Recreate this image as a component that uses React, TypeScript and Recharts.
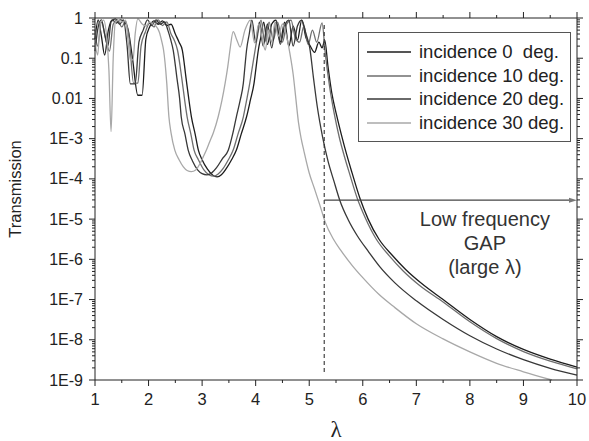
import React from 'react';
import { LineChart, Line, XAxis, YAxis, ReferenceLine, ReferenceDot, Legend } from 'recharts';

// wavelength samples and transmission, one pair per incidence angle
const lambda0 = [1.0, 1.06, 1.12, 1.18, 1.25, 1.32, 1.4, 1.47, 1.55, 1.62, 1.7, 1.8, 1.88, 1.95, 2.02, 2.1, 2.18, 2.26, 2.34, 2.42, 2.5, 2.57, 2.63, 2.7, 2.75, 2.8, 2.87, 2.93, 3.0, 3.1, 3.2, 3.28, 3.36, 3.45, 3.55, 3.64, 3.73, 3.83, 3.9, 3.97, 4.01, 4.05, 4.1, 4.15, 4.22, 4.3, 4.38, 4.46, 4.54, 4.62, 4.7, 4.78, 4.86, 4.94, 5.02, 5.1, 5.18, 5.24, 5.29, 5.35, 5.42, 5.51, 5.6, 5.7, 5.8, 5.95, 6.1, 6.3, 6.55, 6.8, 7.1, 7.5, 8.0, 8.5, 9.0, 9.5, 10];
const trans0 = [0.3, 0.9, 0.35, 0.12, 0.5, 0.9, 0.75, 0.9, 0.8, 0.5, 0.1, 0.012, 0.012, 0.3, 0.6, 0.85, 0.7, 0.85, 0.65, 0.7, 0.4, 0.25, 0.16, 0.032, 0.01, 0.0035, 0.0013, 5.2e-4, 3e-4, 1.74e-4, 1.23e-4, 1.12e-4, 1.26e-4, 1.8e-4, 3e-4, 5.2e-4, 1.3e-3, 3.5e-3, 8.9e-3, 0.024, 0.063, 0.16, 0.35, 0.79, 0.22, 0.71, 0.89, 0.25, 0.79, 0.2, 0.63, 0.28, 0.89, 0.32, 0.2, 0.14, 0.25, 0.18, 0.28, 0.063, 0.014, 3.9e-3, 1.26e-3, 4e-4, 1.41e-4, 3.2e-5, 1e-5, 3.2e-6, 1.26e-6, 5.6e-7, 2.5e-7, 1e-7, 3.2e-8, 1.2e-8, 5.75e-9, 3.3e-9, 2.1e-9];

const lambda10 = [1.0, 1.05, 1.12, 1.2, 1.27, 1.34, 1.42, 1.5, 1.57, 1.64, 1.72, 1.8, 1.86, 1.94, 2.02, 2.1, 2.18, 2.26, 2.34, 2.42, 2.48, 2.54, 2.62, 2.67, 2.72, 2.79, 2.85, 2.93, 3.03, 3.13, 3.22, 3.3, 3.39, 3.49, 3.58, 3.67, 3.77, 3.83, 3.89, 3.94, 3.99, 4.04, 4.1, 4.17, 4.25, 4.33, 4.41, 4.5, 4.58, 4.66, 4.74, 4.82, 4.9, 4.98, 5.06, 5.14, 5.24, 5.3, 5.38, 5.47, 5.56, 5.66, 5.76, 5.9, 6.05, 6.25, 6.5, 6.75, 7.05, 7.5, 8.0, 8.5, 9.0, 9.5, 10];
const trans10 = [0.5, 0.2, 0.8, 0.3, 0.15, 0.7, 0.9, 0.6, 0.85, 0.3, 0.024, 0.024, 0.2, 0.45, 0.75, 0.6, 0.9, 0.65, 0.8, 0.4, 0.28, 0.16, 0.032, 0.01, 0.0035, 0.0013, 5.2e-4, 3e-4, 1.7e-4, 1.26e-4, 1.17e-4, 1.32e-4, 1.8e-4, 3e-4, 5.2e-4, 1.3e-3, 3.5e-3, 8.9e-3, 0.024, 0.063, 0.16, 0.4, 0.89, 0.25, 0.79, 0.28, 0.79, 0.25, 0.71, 0.89, 0.32, 0.25, 0.63, 0.22, 0.5, 0.25, 0.76, 0.13, 0.02, 4e-3, 1.1e-3, 3.5e-4, 1.26e-4, 3.2e-5, 1.05e-5, 3.2e-6, 1.2e-6, 5.2e-7, 2.3e-7, 8.7e-8, 2.8e-8, 1.07e-8, 5.1e-9, 2.95e-9, 1.9e-9];

const lambda20 = [1.0, 1.06, 1.12, 1.18, 1.24, 1.3, 1.38, 1.46, 1.53, 1.6, 1.66, 1.75, 1.82, 1.9, 1.98, 2.06, 2.14, 2.22, 2.3, 2.36, 2.41, 2.46, 2.53, 2.58, 2.61, 2.68, 2.74, 2.82, 2.92, 3.0, 3.09, 3.18, 3.27, 3.38, 3.49, 3.57, 3.64, 3.71, 3.77, 3.8, 3.83, 3.88, 3.93, 4.0, 4.07, 4.14, 4.22, 4.3, 4.38, 4.46, 4.54, 4.62, 4.7, 4.78, 4.86, 4.94, 5.01, 5.08, 5.15, 5.25, 5.35, 5.46, 5.57, 5.73, 5.9, 6.1, 6.32, 6.6, 7.0, 7.5, 8.0, 8.5, 9.0, 9.5, 10];
const trans20 = [0.15, 0.6, 0.9, 0.4, 0.2, 0.8, 0.95, 0.7, 0.9, 0.2, 0.023, 0.023, 0.25, 0.5, 0.9, 0.65, 0.9, 0.7, 0.8, 0.5, 0.3, 0.16, 0.032, 0.01, 0.0035, 0.0013, 5.2e-4, 2.8e-4, 1.66e-4, 1.35e-4, 1.26e-4, 1.41e-4, 1.9e-4, 3.2e-4, 5.2e-4, 1.3e-3, 3.5e-3, 8.9e-3, 0.024, 0.063, 0.16, 0.4, 0.89, 0.25, 0.79, 0.2, 0.71, 0.18, 0.79, 0.22, 0.63, 0.89, 0.2, 0.63, 0.89, 0.4, 0.18, 0.032, 6.3e-3, 1.1e-3, 2.8e-4, 8.9e-5, 2.95e-5, 9.5e-6, 3.8e-6, 1.6e-6, 6.5e-7, 2.6e-7, 9.3e-8, 3.2e-8, 1.26e-8, 5.9e-9, 3.2e-9, 1.95e-9, 1.32e-9];

// the 30 deg curve leaves the plot through the bottom edge near 9.5
const lambda30 = [1.0, 1.05, 1.1, 1.16, 1.22, 1.26, 1.3, 1.34, 1.38, 1.45, 1.52, 1.57, 1.62, 1.66, 1.71, 1.75, 1.8, 1.88, 1.95, 2.02, 2.08, 2.14, 2.2, 2.25, 2.28, 2.34, 2.38, 2.42, 2.49, 2.57, 2.65, 2.72, 2.8, 2.88, 2.96, 3.02, 3.08, 3.14, 3.21, 3.3, 3.37, 3.43, 3.48, 3.52, 3.58, 3.65, 3.71, 3.8, 3.9, 3.98, 4.06, 4.12, 4.18, 4.24, 4.3, 4.36, 4.42, 4.5, 4.55, 4.6, 4.64, 4.7, 4.75, 4.8, 4.85, 4.9, 5.0, 5.1, 5.2, 5.3, 5.45, 5.6, 5.8, 6.0, 6.3, 6.6, 7.0, 7.5, 8.0, 8.5, 9.0, 9.53];
const trans30 = [0.24, 0.12, 0.79, 0.89, 0.32, 0.05, 0.0015, 0.1, 0.79, 0.89, 0.79, 0.89, 0.25, 0.091, 0.091, 0.4, 0.95, 0.71, 0.63, 0.79, 0.71, 0.63, 0.45, 0.25, 0.16, 0.024, 0.0035, 0.0014, 5.2e-4, 3e-4, 2e-4, 1.62e-4, 1.51e-4, 1.66e-4, 2.4e-4, 3.5e-4, 5.2e-4, 8.3e-4, 0.0014, 0.0035, 0.0089, 0.024, 0.063, 0.16, 0.46, 0.28, 0.19, 0.5, 0.89, 0.24, 0.71, 0.32, 0.16, 0.5, 0.25, 0.79, 0.35, 0.71, 0.5, 0.25, 0.13, 0.04, 0.01, 0.0025, 0.001, 5e-4, 1.4e-4, 5.6e-5, 2.2e-5, 8.3e-6, 3.2e-6, 1.6e-6, 7.1e-7, 3.5e-7, 1.35e-7, 6.3e-8, 2.5e-8, 1.05e-8, 5e-9, 2.6e-9, 1.6e-9, 1e-9];

const seriesNames = ['incidence 0  deg.', 'incidence 10 deg.', 'incidence 20 deg.', 'incidence 30 deg.'];
const seriesColors = ['#1c1c1c', '#6e6e6e', '#383838', '#a8a8a8'];

const xMajor = [1, 2, 3, 4, 5, 6, 7, 8, 9, 10];
const xMinor = [1.5, 2.5, 3.5, 4.5, 5.5, 6.5, 7.5, 8.5, 9.5];
const yMajor = [1e-9, 1e-8, 1e-7, 1e-6, 1e-5, 1e-4, 1e-3, 0.01, 0.1, 1];
const yMajorLabels = ['1E-9', '1E-8', '1E-7', '1E-6', '1E-5', '1E-4', '1E-3', '0.01', '0.1', '1'];

// annotation: edge of the low frequency gap and its arrow
const gapEdge = 5.28;
const dashSpan = [0.67, 1.5e-9];
const arrowLevel = 2.95e-5;
const noteAt = { x: 8.28, y: 6.8e-6 };
const noteLines = ['Low frequency', 'GAP', '(large \u03bb)'];

const ink = '#222';
const font = '"Liberation Sans", Arial, sans-serif';

// chart box
const W = 589;
const H = 441;
const margin = { top: 18, right: 12, bottom: 31, left: 0 };
const yAxisWidth = 95;
const xAxisHeight = 30;
const plot = {
  left: margin.left + yAxisWidth,
  top: margin.top,
  width: W - margin.left - yAxisWidth - margin.right,
  height: H - margin.top - margin.bottom - xAxisHeight,
};

const yMinor: number[] = [];
for (let k = -9; k < 0; k++) {
  for (let m = 2; m <= 9; m++) yMinor.push(m * Math.pow(10, k));
}
const yTicks = [...yMajor, ...yMinor].sort((a, b) => a - b);
const xTicks = [...xMajor, ...xMinor].sort((a, b) => a - b);
const xLo = xMajor[0];
const xHi = xMajor[xMajor.length - 1];
const yLo = yMajor[0];
const yHi = yMajor[yMajor.length - 1];

const majorY = (v: number) => yMajor.findIndex(m => Math.abs(Math.log10(v) - Math.log10(m)) < 1e-6);
const isMajorX = (v: number) => Math.abs(v - Math.round(v)) < 1e-6;

const makeSeries = (xs: number[], ts: number[]) => xs.map((x, i) => ({ x, t: ts[i] }));
const series = [
  makeSeries(lambda0, trans0),
  makeSeries(lambda10, trans10),
  makeSeries(lambda20, trans20),
  makeSeries(lambda30, trans30),
];

const LeftTick = (props: any) => {
  const { x, y, payload } = props;
  const i = majorY(payload.value);
  const ax = x + 12;
  const len = i >= 0 ? 6 : 3;
  return (
    <g>
      <line x1={ax - len} x2={ax} y1={y} y2={y} stroke={ink} strokeWidth={1} />
      {i >= 0 && (
        <text x={x} y={y} dy="0.35em" textAnchor="end" fontSize={16} fill={ink} fontFamily={font}>
          {yMajorLabels[i]}
        </text>
      )}
    </g>
  );
};

const BottomTick = (props: any) => {
  const { x, y, payload } = props;
  const major = isMajorX(payload.value);
  const ay = y - 13;
  return (
    <g>
      <line x1={x} x2={x} y1={ay} y2={ay + (major ? 6 : 3)} stroke={ink} strokeWidth={1} />
      {major && (
        <text x={x} y={y} dy="0.71em" textAnchor="middle" fontSize={16.5} fill={ink} fontFamily={font}>
          {payload.value}
        </text>
      )}
    </g>
  );
};

// top and right edges of the frame, mirroring the bottom and left axis ticks
const FrameOverlay = () => {
  const px = (v: number) => plot.left + ((v - xLo) / (xHi - xLo)) * plot.width;
  const py = (v: number) =>
    plot.top + ((Math.log10(yHi) - Math.log10(v)) / (Math.log10(yHi) - Math.log10(yLo))) * plot.height;
  const right = plot.left + plot.width;
  return (
    <svg width={W} height={H} style={{ position: 'absolute', left: 0, top: 0, pointerEvents: 'none' }}>
      <line x1={plot.left} x2={right} y1={plot.top} y2={plot.top} stroke={ink} strokeWidth={1} />
      <line x1={right} x2={right} y1={plot.top} y2={plot.top + plot.height} stroke={ink} strokeWidth={1} />
      {xTicks.map(t => (
        <line key={`tx${t}`} x1={px(t)} x2={px(t)} y1={plot.top} y2={plot.top - (isMajorX(t) ? 6 : 3)} stroke={ink} strokeWidth={1} />
      ))}
      {yTicks.map(t => (
        <line key={`ry${t}`} x1={right} x2={right + (majorY(t) >= 0 ? 6 : 3)} y1={py(t)} y2={py(t)} stroke={ink} strokeWidth={1} />
      ))}
    </svg>
  );
};

const YTitle = (props: any) => {
  const vb = props.viewBox || { x: 0, y: plot.top, width: yAxisWidth, height: plot.height };
  const cx = vb.x + 15;
  const cy = vb.y + vb.height / 2 - 10;
  return (
    <text x={cx} y={cy} transform={`rotate(-90, ${cx}, ${cy})`} textAnchor="middle" dominantBaseline="central"
      fontSize={16.5} fill={ink} fontFamily={font}>
      Transmission
    </text>
  );
};

const Arrow = (p: any) => {
  const { x1, y1, x2, y2 } = p;
  return (
    <g>
      <line x1={x1} y1={y1} x2={x2 - 5} y2={y2} stroke="#444" strokeWidth={1.3} />
      <polygon points={`${x2},${y2} ${x2 - 8},${y2 - 2.5} ${x2 - 8},${y2 + 2.5}`} fill="#777" />
    </g>
  );
};

const Note = (p: any) => {
  const { cx, cy } = p;
  return (
    <text x={cx} y={cy} textAnchor="middle" fontSize={20} fill="#333" fontFamily={font}>
      {noteLines.map((s, i) => (
        <tspan key={i} x={cx} dy={i === 0 ? 0 : 24}>{s}</tspan>
      ))}
    </text>
  );
};

const LegendBox = () => (
  <div style={{ width: 213, height: 110, border: '1px solid #555', boxSizing: 'border-box', background: '#fff', paddingTop: 7, fontFamily: font }}>
    {seriesNames.map((name, i) => (
      <div key={name} style={{ display: 'flex', alignItems: 'center', height: 23.7 }}>
        <svg width={52} height={4} style={{ marginLeft: 8, flex: 'none' }}>
          <line x1={0} x2={44} y1={2} y2={2} stroke={seriesColors[i]} strokeWidth={1.4} />
        </svg>
        <span style={{ fontSize: 18.5, color: ink, whiteSpace: 'pre', lineHeight: '20px' }}>{name}</span>
      </div>
    ))}
  </div>
);

export default function App() {
  return (
    <div style={{ position: 'absolute', left: 0, top: 0, width: W, height: H, background: '#fff' }}>
      <LineChart width={W} height={H} margin={margin} style={{ fontFamily: font }}>
        <XAxis xAxisId="b" type="number" dataKey="x" domain={[xLo, xHi]} ticks={xTicks} interval={0}
          stroke={ink} height={xAxisHeight} tickSize={6} tickMargin={7} tickLine={false} tick={<BottomTick />}
          label={{ value: '\u03bb', position: 'bottom', offset: 11, style: { fontSize: 23, fill: ink, fontFamily: '"Liberation Serif", serif' } }} />
        <YAxis yAxisId="l" type="number" scale="log" domain={[yLo, yHi]} ticks={yTicks} interval={0}
          stroke={ink} width={yAxisWidth} tickSize={6} tickMargin={6} tickLine={false} tick={<LeftTick />}
          label={<YTitle />} />
        {series.map((d, i) => (
          <Line key={seriesNames[i]} xAxisId="b" yAxisId="l" data={d} dataKey="t" name={seriesNames[i]}
            type="monotoneX" stroke={seriesColors[i]} strokeWidth={1.3} dot={false} isAnimationActive={false} />
        ))}
        <ReferenceLine xAxisId="b" yAxisId="l" segment={[{ x: gapEdge, y: dashSpan[0] }, { x: gapEdge, y: dashSpan[1] }]}
          stroke="#333" strokeWidth={1.1} strokeDasharray="4 3" />
        <ReferenceLine xAxisId="b" yAxisId="l" segment={[{ x: gapEdge, y: arrowLevel }, { x: xHi, y: arrowLevel }]} shape={<Arrow />} />
        <ReferenceDot xAxisId="b" yAxisId="l" x={noteAt.x} y={noteAt.y} r={0} shape={<Note />} />
        <Legend layout="vertical" align="center" verticalAlign="middle" content={<LegendBox />}
          wrapperStyle={{ left: 358, top: 32, width: 213, height: 110 }} />
      </LineChart>
      <FrameOverlay />
    </div>
  );
}
